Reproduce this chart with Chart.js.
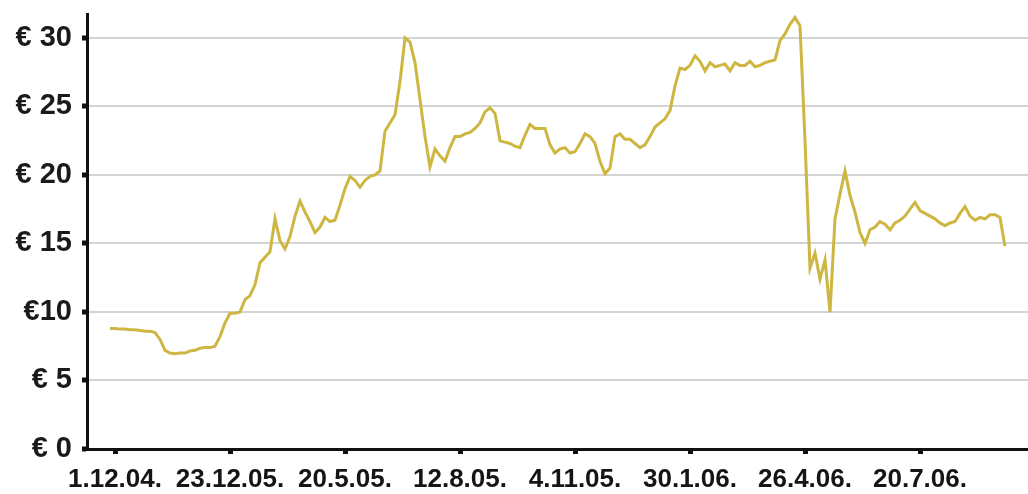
<!DOCTYPE html>
<html>
<head>
<meta charset="utf-8">
<script src="https://cdn.jsdelivr.net/npm/chart.js@4"></script>
<style>
  html, body { margin: 0; padding: 0; background: #fff; }
  #wrap { width: 1028px; height: 494px; }
</style>
</head>
<body>
<div id="wrap"><canvas id="priceChart" width="1028" height="494"></canvas></div>
<script>
// share price, one reading roughly every half week
var prices = [
    8.8, 8.8, 8.75, 8.75, 8.7, 8.7, 8.65, 8.6, 8.6, 8.5,
    8.0, 7.2, 7.0, 6.95, 7.0, 7.0, 7.15, 7.2, 7.35, 7.4,
    7.4, 7.5, 8.2, 9.2, 9.9, 9.9, 10.0, 10.9, 11.2, 12.0,
    13.6, 14.0, 14.4, 16.8, 15.2, 14.6, 15.5, 17.0, 18.1, 17.3,
    16.6, 15.8, 16.2, 16.9, 16.6, 16.7, 17.8, 19.0, 19.9, 19.6,
    19.1, 19.6, 19.9, 20.0, 20.3, 23.2, 23.8, 24.4, 26.8, 30.0,
    29.7, 28.2, 25.5, 22.8, 20.6, 21.9, 21.4, 21.0, 22.0, 22.8,
    22.8, 23.0, 23.1, 23.4, 23.8, 24.6, 24.9, 24.5, 22.5, 22.4,
    22.3, 22.1, 22.0, 22.9, 23.7, 23.4, 23.4, 23.4, 22.2, 21.6,
    21.9, 22.0, 21.6, 21.7, 22.3, 23.0, 22.8, 22.3, 21.0, 20.1,
    20.5, 22.8, 23.0, 22.6, 22.6, 22.3, 22.0, 22.2, 22.8, 23.5,
    23.8, 24.1, 24.7, 26.5, 27.8, 27.7, 28.0, 28.7, 28.3, 27.6,
    28.2, 27.9, 28.0, 28.1, 27.6, 28.2, 28.0, 28.0, 28.3, 27.9,
    28.0, 28.2, 28.3, 28.4, 29.8, 30.3, 31.0, 31.5, 30.9, 22.5,
    13.2, 14.3, 12.4, 13.8, 10.0, 16.8, 18.6, 20.3, 18.5, 17.3,
    15.8, 15.0, 16.0, 16.2, 16.6, 16.4, 16.0, 16.5, 16.7, 17.0,
    17.5, 18.0, 17.4, 17.2, 17.0, 16.8, 16.5, 16.3, 16.5, 16.6,
    17.2, 17.7, 17.0, 16.7, 16.9, 16.8, 17.1, 17.1, 16.9, 14.8
];

// where the date ticks sit (index into prices) and what they say
var dateTickPos = [1, 24, 47, 70, 93, 116, 139, 162];
var dateTickLabels = ["1.12.04.", "23.12.05.", "20.5.05.", "12.8.05.", "4.11.05.", "30.1.06.", "26.4.06.", "20.7.06."];

var priceTickValues = [0, 5, 10, 15, 20, 25, 30];
var priceTickLabels = ["€ 0", "€ 5", "€10", "€ 15", "€ 20", "€ 25", "€ 30"];

var ctx = document.getElementById("priceChart");
var myChart = new Chart(ctx, {
    type: 'line',
    data: {
        labels: prices.map(function (p, i) { return i; }),
        datasets: [
            {
                data: prices,
                label: "Kurs",
                borderColor: "rgb(206,182,66)",
                backgroundColor: "rgb(206,182,66)",
                borderWidth: 3,
                pointRadius: 0,
                tension: 0,
                fill: false
            }
        ]
    },
    options: {
        responsive: false,
        animation: false,
        layout: { padding: { top: 14, left: 0, right: 0, bottom: 0 } },
        plugins: {
            legend: { display: false },
            tooltip: { enabled: false }
        },
        scales: {
            x: {
                type: 'linear',
                min: -4.6,
                max: 183.6,
                afterFit: function (s) {
                    s.height = 45;
                    s.paddingLeft = 0;
                    s.paddingRight = 0;
                },
                afterBuildTicks: function (s) {
                    s.ticks = dateTickPos.map(function (v) { return { value: v }; });
                },
                border: { color: "#111", width: 3 },
                grid: {
                    drawOnChartArea: false,
                    tickLength: 5,
                    tickWidth: 5,
                    tickColor: "#111"
                },
                ticks: {
                    autoSkip: false,
                    maxRotation: 0,
                    padding: 10,
                    color: "#151515",
                    font: { family: "'Liberation Sans', Arial, sans-serif", size: 26, weight: 'bold' },
                    callback: function (value) {
                        var k = dateTickPos.indexOf(value);
                        return k >= 0 ? dateTickLabels[k] : "";
                    }
                }
            },
            y: {
                min: 0,
                max: 31.75,
                afterFit: function (s) {
                    s.width = 87;
                    s.paddingTop = 0;
                    s.paddingBottom = 0;
                },
                afterBuildTicks: function (s) {
                    s.ticks = priceTickValues.map(function (v) { return { value: v }; });
                },
                border: { color: "#111", width: 3 },
                grid: {
                    color: function (c) { return c.tick && c.tick.value === 0 ? "rgba(0,0,0,0)" : "#d4d4d4"; },
                    lineWidth: 2,
                    tickLength: 5,
                    tickWidth: 5,
                    tickColor: "#111"
                },
                ticks: {
                    padding: 10,
                    color: "#1a1a1a",
                    font: { family: "'Liberation Sans', Arial, sans-serif", size: 29, weight: 'bold' },
                    callback: function (value) {
                        var k = priceTickValues.indexOf(value);
                        return k >= 0 ? priceTickLabels[k] : "";
                    }
                }
            }
        }
    }
});
</script>
</body>
</html>
